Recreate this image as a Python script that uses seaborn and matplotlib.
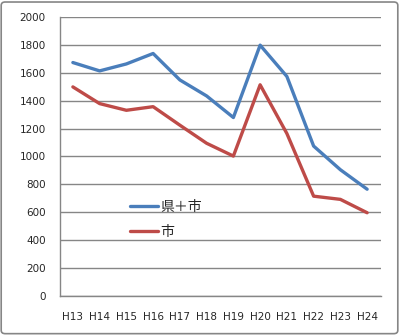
import matplotlib
matplotlib.use("Agg")
import matplotlib.pyplot as plt
import seaborn as sns
import pandas as pd
from matplotlib.patches import FancyBboxPatch

years = ["H13", "H14", "H15", "H16", "H17", "H18", "H19", "H20", "H21", "H22", "H23", "H24"]
pref_city = [1675, 1615, 1665, 1740, 1550, 1435, 1280, 1800, 1575, 1075, 905, 765]
city = [1500, 1380, 1332, 1358, 1225, 1095, 1003, 1515, 1165, 715, 692, 596]
series_names = ["県＋市", "市"]
colors = ["#4A7EBB", "#BE4B48"]

df = pd.DataFrame({
    "year": years * 2,
    "value": pref_city + city,
    "series": [series_names[0]] * len(years) + [series_names[1]] * len(years),
})
df["x"] = list(range(len(years))) * 2

sns.set_style("white")
plt.rcParams["font.family"] = ["DejaVu Sans", "Noto Sans CJK JP"]

fig = plt.figure(figsize=(3.99, 3.35), dpi=100)
ax = fig.add_axes([59.5 / 399, (335 - 295.7) / 335, (380.5 - 59.5) / 399, (295.7 - 17.3) / 335])

sns.lineplot(data=df, x="x", y="value", hue="series", palette=colors, linewidth=2.4,
             ax=ax, legend=True)

ax.set_xlim(-0.5, len(years) - 0.5)
ax.set_ylim(0, 2000)
ax.set_yticks(range(0, 2001, 200))
ax.set_xticks(range(len(years)))
ax.set_xticklabels(years)
ax.set_xlabel("")
ax.set_ylabel("")

ax.grid(axis="y", color="#868686", linewidth=1)
ax.set_axisbelow(True)
for s in ["top", "right"]:
    ax.spines[s].set_visible(False)
for s in ["left", "bottom"]:
    ax.spines[s].set_color("#868686")
    ax.spines[s].set_linewidth(1)

# x ticks at category boundaries
ax.set_xticks([i - 0.5 for i in range(len(years) + 1)], minor=True)
ax.tick_params(axis="x", which="major", length=0, pad=12, labelsize=7.5)
ax.tick_params(axis="x", which="minor", length=5, color="#868686", direction="out")
ax.tick_params(axis="y", length=4, color="#868686", direction="out", labelsize=7.5, pad=6)

leg = ax.legend(loc="upper left", bbox_to_anchor=(123 / 399, 1 - 193 / 335),
                bbox_transform=fig.transFigure, frameon=False,
                prop={"family": ["Noto Sans CJK JP"], "size": 10},
                handlelength=2.0, handletextpad=0.15, labelspacing=0.8, borderpad=0)

border = FancyBboxPatch((0.003, 0.004), 0.994, 0.99, boxstyle="round,pad=0,rounding_size=0.01",
                        transform=fig.transFigure, facecolor="none", edgecolor="#868686",
                        linewidth=1.2)
fig.patches.append(border)

fig.savefig("out.png", dpi=100)
